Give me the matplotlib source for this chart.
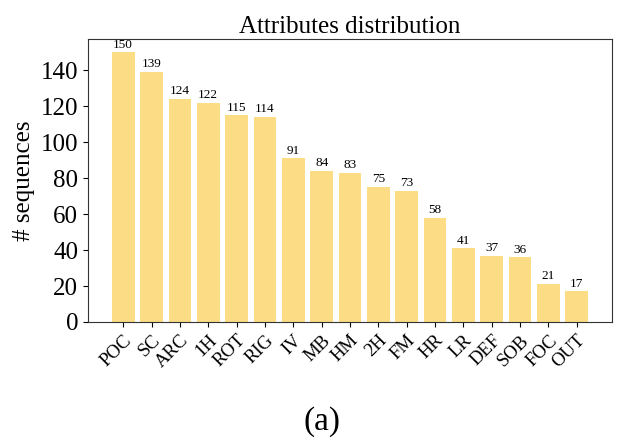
import matplotlib
matplotlib.use("Agg")
import matplotlib.pyplot as plt

categories = ["POC", "SC", "ARC", "1H", "ROT", "RIG", "IV", "MB", "HM", "2H",
              "FM", "HR", "LR", "DEF", "SOB", "FOC", "OUT"]
counts = [150, 139, 124, 122, 115, 114, 91, 84, 83, 75, 73, 58, 41, 37, 36, 21, 17]
yticks = [0, 20, 40, 60, 80, 100, 120, 140]

plt.rcParams['font.family'] = ['Liberation Serif', 'DejaVu Serif']

fig = plt.figure(figsize=(6.22, 4.42), dpi=100)
ax = fig.add_axes([88/622, 1-322/442, (612-88)/622, (322-39)/442])

x = list(range(len(categories)))
bars = ax.bar(x, counts, width=0.8, color="#FCDC84")
for xi, v in zip(x, counts):
    ax.text(xi, v + 1, str(v), ha="center", va="bottom", fontsize=9.5)

ax.set_xticks(x)
ax.set_xticklabels(categories, rotation=45, ha="right", rotation_mode="anchor", fontsize=13.5)
ax.set_yticks(yticks)
ax.tick_params(axis="y", labelsize=18)
ax.set_ylabel("# sequences", fontsize=18)
ax.set_title("Attributes distribution", fontsize=18, pad=4)
for s in ax.spines.values():
    s.set_color("#333333")

fig.text(322/622, 1-422/442, "(a)", ha="center", va="center", fontsize=24)

fig.savefig("out.png", dpi=100)
